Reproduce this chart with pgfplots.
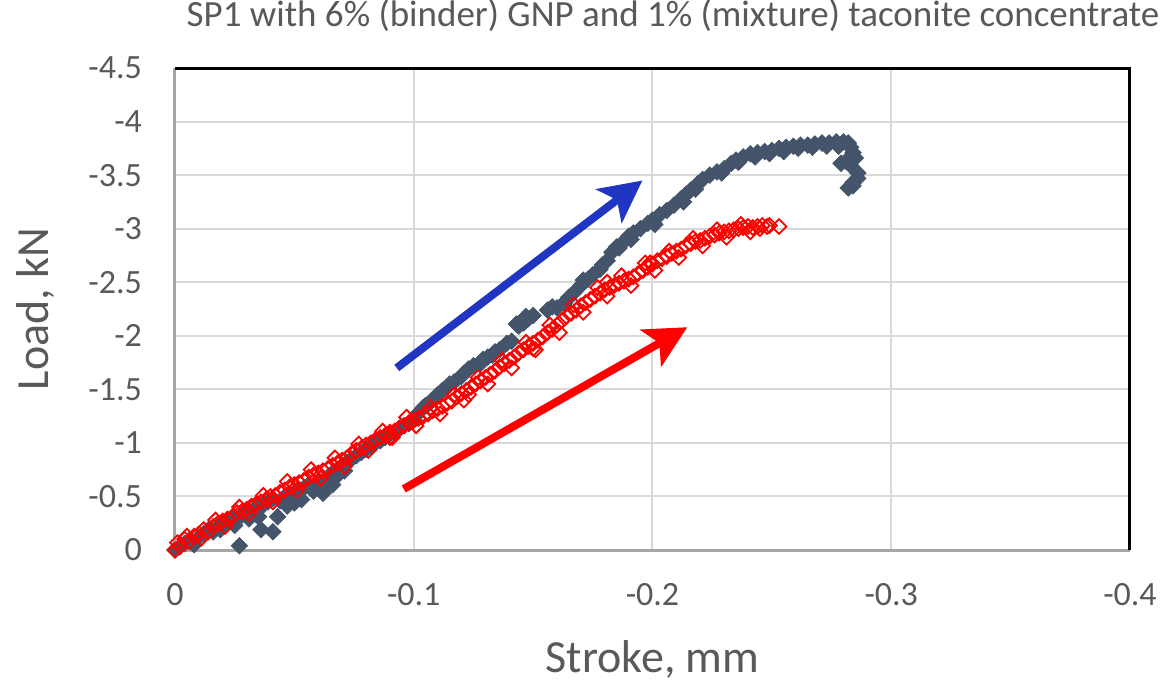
\documentclass[border=0pt]{standalone}
\usepackage{fontspec}
\setmainfont{Carlito}
\usepackage{pgfplots}
\pgfplotsset{compat=1.18}
\usetikzlibrary{arrows.meta}
\definecolor{slate}{HTML}{44546A}
\definecolor{txtgray}{HTML}{595959}
\definecolor{gridgray}{HTML}{D9D9D9}
\definecolor{axgray}{HTML}{A6A6A6}
\definecolor{arrowblue}{HTML}{2035C2}
\begin{document}
\begin{tikzpicture}
\path[use as bounding box] (-87.5pt,-66pt) rectangle (499pt,275pt);
\begin{axis}[
  at={(0,0)}, anchor=south west,
  scale only axis, width=477.5pt, height=241pt,
  xmin=-0.4, xmax=0, ymin=-4.5, ymax=0,
  x dir=reverse, y dir=reverse,
  axis line style={draw=none},
  major tick length=0pt,
  xtick={-0.4,-0.3,-0.2,-0.1,0},
  xticklabels={-0.4,-0.3,-0.2,-0.1,0},
  ytick={-4.5,-4,-3.5,-3,-2.5,-2,-1.5,-1,-0.5,0},
  yticklabels={-4.5,-4,-3.5,-3,-2.5,-2,-1.5,-1,-0.5,0},
  grid=major, major grid style={draw=gridgray, line width=1pt},
  ticklabel style={font=\fontsize{17}{20}\selectfont, text=txtgray},
  xticklabel style={yshift=-13pt},
  yticklabel style={xshift=-13pt},
  title={SP1 with 6\% (binder) GNP and 1\% (mixture) taconite concentrate},
  title style={at={(axis description cs:0.5215,1.085)}, anchor=center, font=\fontsize{18.5}{22}\selectfont, text=txtgray},
  xlabel={Stroke, mm},
  xlabel style={at={(axis description cs:0.5,-0.228)}, anchor=center, font=\fontsize{23}{27}\selectfont, text=txtgray},
  ylabel={Load, kN},
  ylabel style={at={(axis description cs:-0.1466,0.5)}, anchor=center, rotate=0, font=\fontsize{23}{27}\selectfont, text=txtgray},
  clip=false,
]
\draw[draw=axgray, line width=1.5pt] (axis description cs:0,1) -- (axis description cs:0,0) -- (axis description cs:1,0);
\draw[draw=black, line width=1.5pt] (axis description cs:0,1) -- (axis description cs:1,1) -- (axis description cs:1,0);

\addplot[only marks, mark=square*, mark size=2.9pt, mark options={rotate=45, draw=slate, fill=slate}] coordinates {
(0,0) (-0.002,-0.03) (-0.004,-0.06) (-0.006,-0.09) (-0.008,-0.05) (-0.010,-0.12)
(-0.012,-0.15) (-0.014,-0.19) (-0.016,-0.17) (-0.018,-0.22) (-0.020,-0.25) (-0.022,-0.27)
(-0.024,-0.30) (-0.026,-0.28) (-0.027,-0.04) (-0.028,-0.33) (-0.030,-0.36) (-0.032,-0.34)
(-0.034,-0.40) (-0.036,-0.19) (-0.037,-0.42) (-0.039,-0.45) (-0.041,-0.17) (-0.041,-0.48)
(-0.043,-0.31) (-0.044,-0.46) (-0.046,-0.50) (-0.048,-0.52) (-0.050,-0.44) (-0.052,-0.56)
(-0.054,-0.58) (-0.056,-0.61) (-0.058,-0.55) (-0.060,-0.64) (-0.062,-0.53) (-0.064,-0.68)
(-0.066,-0.61) (-0.066,-0.72) (-0.068,-0.75) (-0.070,-0.78) (-0.072,-0.82) (-0.074,-0.85)
(-0.076,-0.88) (-0.078,-0.91) (-0.080,-0.94) (-0.082,-0.97) (-0.084,-1.00) (-0.086,-1.02)
(-0.088,-1.05) (-0.090,-1.08) (-0.092,-1.10) (-0.094,-1.13) (-0.096,-1.16) (-0.098,-1.18)
(-0.100,-1.22) (-0.102,-1.28) (-0.104,-1.33) (-0.106,-1.36) (-0.108,-1.40) (-0.110,-1.45)
(-0.112,-1.49) (-0.114,-1.52) (-0.117,-1.57) (-0.120,-1.62) (-0.123,-1.69) (-0.125,-1.72)
(-0.128,-1.74) (-0.131,-1.80) (-0.133,-1.82) (-0.136,-1.87) (-0.139,-1.93) (-0.141,-1.95)
(-0.144,-2.09) (-0.146,-2.12) (-0.148,-2.16) (-0.150,-2.19) (-0.156,-2.24) (-0.160,-2.26)
(-0.163,-2.30) (-0.165,-2.36) (-0.167,-2.40) (-0.170,-2.47) (-0.173,-2.53) (-0.175,-2.57)
(-0.178,-2.62) (-0.181,-2.70) (-0.183,-2.78) (-0.185,-2.83) (-0.188,-2.88) (-0.190,-2.93)
(-0.192,-2.96) (-0.195,-3.00) (-0.198,-3.05) (-0.200,-3.08) (-0.203,-3.13) (-0.206,-3.17)
(-0.209,-3.22) (-0.212,-3.28) (-0.214,-3.32) (-0.216,-3.36) (-0.219,-3.42) (-0.221,-3.46)
(-0.224,-3.50) (-0.227,-3.53) (-0.230,-3.56) (-0.233,-3.61) (-0.235,-3.64) (-0.238,-3.67)
(-0.241,-3.70) (-0.244,-3.71) (-0.247,-3.72) (-0.250,-3.73) (-0.253,-3.75) (-0.256,-3.76)
(-0.259,-3.77) (-0.262,-3.78) (-0.265,-3.78) (-0.268,-3.79) (-0.271,-3.80) (-0.274,-3.80)
(-0.277,-3.81) (-0.280,-3.81) (-0.282,-3.80) (-0.283,-3.76) (-0.284,-3.71) (-0.285,-3.66)
(-0.281,-3.63) (-0.279,-3.61) (-0.283,-3.59) (-0.286,-3.52) (-0.286,-3.47) (-0.284,-3.43)
(-0.282,-3.38) (-0.284,-3.40)
(-0.213,-3.25) (-0.218,-3.37) (-0.229,-3.52) (-0.236,-3.62) (-0.243,-3.67) (-0.249,-3.70)
(-0.255,-3.72) (-0.261,-3.75) (-0.267,-3.76) (-0.273,-3.77) (-0.278,-3.77) (-0.201,-3.04)
(-0.191,-2.90) (-0.186,-2.82) (-0.179,-2.66) (-0.171,-2.52) (-0.164,-2.33) (-0.158,-2.27)
(-0.147,-2.18) (-0.143,-2.11) (-0.134,-1.85) (-0.129,-1.78) (-0.121,-1.65) (-0.115,-1.55)
(-0.109,-1.43) (-0.105,-1.35) (-0.047,-0.41) (-0.053,-0.47) (-0.059,-0.60) (-0.063,-0.57)
(-0.035,-0.31) (-0.031,-0.29) (-0.025,-0.23) (-0.019,-0.19) (-0.067,-0.67) (-0.071,-0.74)
};

\addplot[only marks, mark=square, mark size=2.6pt, mark options={rotate=45, draw=red, line width=0.9pt}] coordinates {
(0,0) (-0.001,-0.07) (-0.002,-0.03) (-0.004,-0.10) (-0.006,-0.08) (-0.008,-0.13)
(-0.010,-0.15) (-0.012,-0.19) (-0.014,-0.17) (-0.016,-0.22) (-0.018,-0.25) (-0.020,-0.27)
(-0.022,-0.29) (-0.024,-0.31) (-0.026,-0.35) (-0.028,-0.36) (-0.030,-0.38) (-0.032,-0.41)
(-0.034,-0.43) (-0.036,-0.45) (-0.038,-0.47) (-0.040,-0.50) (-0.042,-0.51) (-0.044,-0.54)
(-0.046,-0.56) (-0.048,-0.59) (-0.050,-0.61) (-0.052,-0.63) (-0.054,-0.65) (-0.056,-0.68)
(-0.058,-0.70) (-0.060,-0.72) (-0.062,-0.74) (-0.064,-0.76) (-0.066,-0.79) (-0.068,-0.81)
(-0.070,-0.84) (-0.072,-0.86) (-0.074,-0.90) (-0.076,-0.93) (-0.078,-0.95) (-0.080,-0.98)
(-0.082,-1.00) (-0.084,-1.03) (-0.086,-1.05) (-0.088,-1.07) (-0.090,-1.10) (-0.092,-1.11)
(-0.094,-1.14) (-0.096,-1.16) (-0.098,-1.19) (-0.100,-1.21) (-0.102,-1.23) (-0.104,-1.25)
(-0.106,-1.27) (-0.108,-1.30) (-0.110,-1.32) (-0.112,-1.34) (-0.114,-1.37) (-0.116,-1.39)
(-0.118,-1.43) (-0.120,-1.46) (-0.122,-1.49) (-0.124,-1.52) (-0.126,-1.55) (-0.128,-1.58)
(-0.130,-1.61) (-0.132,-1.64) (-0.134,-1.67) (-0.136,-1.71) (-0.138,-1.74) (-0.140,-1.77)
(-0.142,-1.80) (-0.144,-1.84) (-0.146,-1.87) (-0.148,-1.90) (-0.150,-1.93) (-0.152,-1.96)
(-0.154,-1.99) (-0.156,-2.03) (-0.158,-2.06) (-0.160,-2.10) (-0.162,-2.14) (-0.164,-2.18)
(-0.166,-2.21) (-0.168,-2.24) (-0.170,-2.28) (-0.172,-2.31) (-0.174,-2.34) (-0.176,-2.37)
(-0.178,-2.40) (-0.180,-2.43) (-0.182,-2.45) (-0.184,-2.47) (-0.186,-2.49) (-0.188,-2.51)
(-0.190,-2.53) (-0.192,-2.55) (-0.194,-2.58) (-0.196,-2.61) (-0.198,-2.64) (-0.200,-2.67)
(-0.202,-2.70) (-0.204,-2.72) (-0.206,-2.74) (-0.208,-2.77) (-0.210,-2.79) (-0.212,-2.81)
(-0.214,-2.84) (-0.216,-2.86) (-0.218,-2.88) (-0.220,-2.89) (-0.222,-2.91) (-0.224,-2.93)
(-0.226,-2.94) (-0.228,-2.96) (-0.230,-2.97) (-0.232,-2.98) (-0.234,-2.99) (-0.236,-3.00)
(-0.238,-3.01) (-0.240,-3.02) (-0.242,-3.01) (-0.244,-3.02) (-0.246,-3.03) (-0.248,-3.02)
(-0.253,-3.02) (-0.181,-2.50) (-0.123,-1.45) (-0.090,-1.05) (-0.199,-2.68) (-0.150,-1.88)
(-0.005,-0.13) (-0.011,-0.11) (-0.017,-0.28) (-0.021,-0.22) (-0.027,-0.40) (-0.031,-0.34)
(-0.037,-0.51) (-0.041,-0.45) (-0.047,-0.64) (-0.051,-0.56) (-0.057,-0.75) (-0.061,-0.67)
(-0.067,-0.86) (-0.071,-0.78) (-0.077,-0.99) (-0.081,-0.93) (-0.087,-1.11) (-0.091,-1.05)
(-0.097,-1.24) (-0.101,-1.16) (-0.107,-1.33) (-0.111,-1.27) (-0.117,-1.45) (-0.121,-1.40)
(-0.127,-1.61) (-0.131,-1.55) (-0.137,-1.77) (-0.141,-1.70) (-0.147,-1.94) (-0.151,-1.87)
(-0.157,-2.10) (-0.161,-2.03) (-0.167,-2.29) (-0.171,-2.22) (-0.177,-2.45) (-0.181,-2.37)
(-0.187,-2.56) (-0.191,-2.47) (-0.197,-2.68) (-0.201,-2.61) (-0.207,-2.79) (-0.211,-2.73)
(-0.217,-2.91) (-0.221,-2.84) (-0.227,-2.99) (-0.231,-2.92) (-0.237,-3.04) (-0.241,-2.97)
(-0.245,-3.00) (-0.249,-3.03)
};

\draw[draw=arrowblue, line width=4pt, -{Stealth[length=21pt, width=21pt, inset=5pt]}] (axis cs:-0.0929,-1.70) -- (axis cs:-0.1958,-3.45);
\draw[draw=red, line width=4pt, -{Stealth[length=21pt, width=21pt, inset=5pt]}] (axis cs:-0.0958,-0.57) -- (axis cs:-0.2146,-2.08);
\end{axis}
\end{tikzpicture}
\end{document}
